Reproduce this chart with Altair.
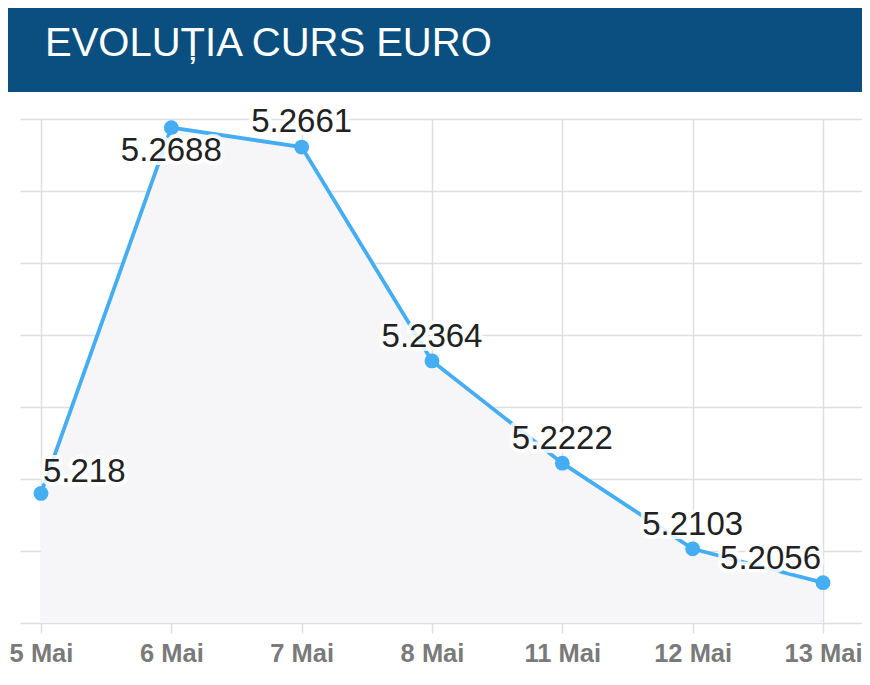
import altair as alt
import pandas as pd

# ---- data ----
dates = ["5 Mai", "6 Mai", "7 Mai", "8 Mai", "11 Mai", "12 Mai", "13 Mai"]
rates = [5.218, 5.2688, 5.2661, 5.2364, 5.2222, 5.2103, 5.2056]
rate_labels = ["5.218", "5.2688", "5.2661", "5.2364", "5.2222", "5.2103", "5.2056"]
y_grid_values = [5.20, 5.21, 5.22, 5.23, 5.24, 5.25, 5.26, 5.27]
title_text = ["EVOLUȚIA CURS EURO"]

df = pd.DataFrame({"date": dates, "rate": rates, "label": rate_labels})
title_df = pd.DataFrame({"t": title_text})

# ---- styles ----
FONT = "Liberation Sans"
BLUE = "#45adf2"
HEADER = "#0a4f80"
GRID = "#dedee4"
W, H = 842, 504
FIRST, LAST = 21, 803
n = len(dates)
step = (LAST - FIRST) / (n - 1)
outer = W - (LAST - FIRST)

x_enc = alt.X(
    "date:N",
    sort=dates,
    scale=alt.Scale(type="point", padding=outer / 2 / step, align=FIRST / outer),
    axis=alt.Axis(
        title=None, labelAngle=0, grid=True, gridColor=GRID, gridWidth=1.5,
        domain=False, ticks=True, tickColor=GRID, tickWidth=1.5, tickSize=10,
        labelPadding=8, labelFont=FONT, labelFontSize=25.5, labelColor="#7a7a7a",
        labelFontWeight="bold",
    ),
)
y_enc = alt.Y(
    "rate:Q",
    scale=alt.Scale(domain=[5.20, 5.27], zero=False, nice=False),
    axis=alt.Axis(
        title=None, labels=False, ticks=False, domain=False,
        values=y_grid_values, gridColor=GRID, gridWidth=1.5,
    ),
)

base = alt.Chart(df)

header = alt.Chart(title_df).mark_rect(color=HEADER).encode(
    x=alt.value(-12), x2=alt.value(W), y=alt.value(-111), y2=alt.value(-27)
)
title = alt.Chart(title_df).mark_text(
    align="left", baseline="alphabetic", font=FONT, fontSize=40, color="white"
).encode(text="t:N", x=alt.value(25), y=alt.value(-63))

area = base.mark_area(color="#f6f6f9").encode(x=x_enc, y=y_enc, y2=alt.datum(5.20))
line = base.mark_line(color=BLUE, strokeWidth=3.8).encode(x=x_enc, y=y_enc)
points = base.mark_circle(color=BLUE, size=220, opacity=1).encode(x=x_enc, y=y_enc)


def labels_for(sel, align, dx, dy):
    src = base.transform_filter(alt.FieldOneOfPredicate(field="date", oneOf=sel))
    halo = src.mark_text(
        align=align, baseline="alphabetic", dx=dx, dy=dy, font=FONT, fontSize=33,
        color="white", stroke="white", strokeWidth=8, strokeOpacity=0.85,
        strokeJoin="round",
    ).encode(x=x_enc, y=y_enc, text="label:N")
    txt = src.mark_text(
        align=align, baseline="alphabetic", dx=dx, dy=dy, font=FONT, fontSize=33,
        color="#222222",
    ).encode(x=x_enc, y=y_enc, text="label:N")
    return [halo, txt]


text_layers = []
text_layers += labels_for(["5 Mai"], "left", 2, -11)
text_layers += labels_for(["6 Mai"], "center", 0, 33)
text_layers += labels_for(["7 Mai"], "center", 0, -15)
text_layers += labels_for(["8 Mai", "12 Mai", "11 Mai"], "center", 0, -14)
text_layers += labels_for(["13 Mai"], "right", -2, -14)

chart = alt.layer(header, title, area, line, points, *text_layers).properties(
    width=W,
    height=H,
    padding={"left": 12, "top": 111, "right": 0, "bottom": 50},
    autosize=alt.AutoSizeParams(type="none"),
    background="white",
).configure_view(stroke=None)

chart.save("out.html", embed_options={"renderer": "svg", "actions": False})
